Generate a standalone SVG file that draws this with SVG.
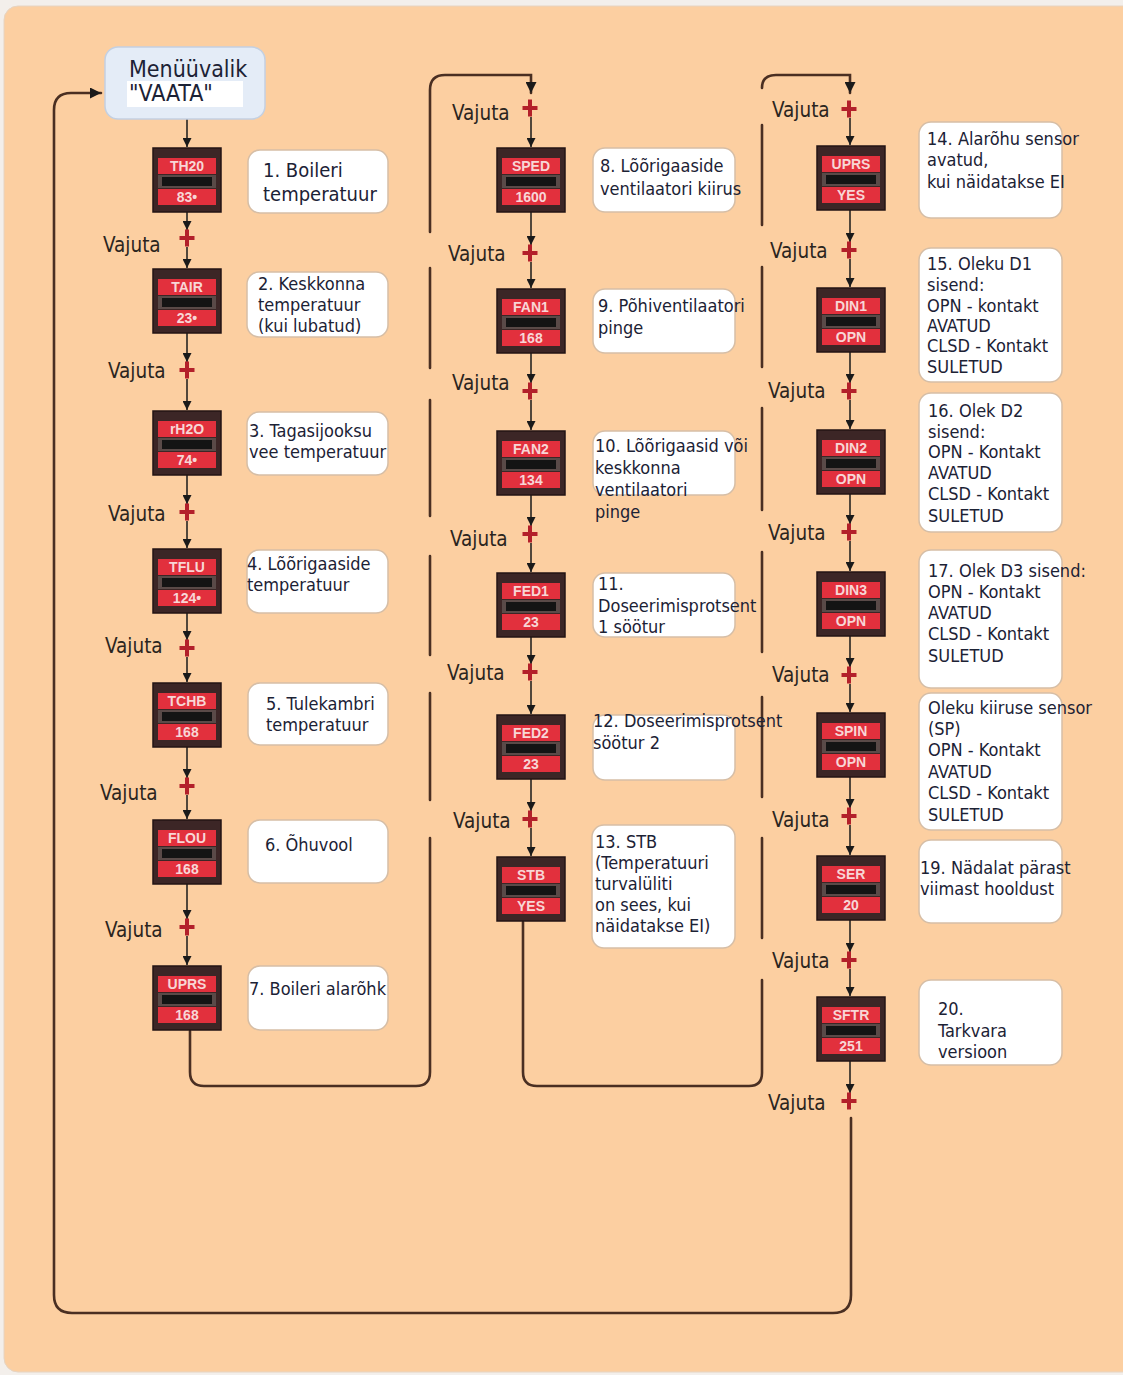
<svg xmlns="http://www.w3.org/2000/svg" xmlns:xlink="http://www.w3.org/1999/xlink" width="1123" height="1375" viewBox="0 0 1123 1375">
<style>
.dt{font-family:"DejaVu Sans Condensed","Liberation Sans",sans-serif;font-size:18px;fill:#1C2235}
.dt1{font-size:20px}
.mt{font-family:"DejaVu Sans Condensed","Liberation Sans",sans-serif;font-size:23px;fill:#1C2235}
.vj{font-family:"DejaVu Sans Condensed","Liberation Sans",sans-serif;font-size:20.5px;fill:#2B2520}
.dl{font-family:"Liberation Sans",Arial,sans-serif;font-weight:bold;font-size:14px;fill:#F8D6D6;text-anchor:middle}
.desc{fill:#FFFFFF;stroke:#D6BEA6;stroke-width:1.5}
.conn{fill:none;stroke:#4A2F22;stroke-width:2.6;stroke-linecap:round}
.thin{fill:none;stroke:#1A1A1A;stroke-width:1.5}
</style>
<defs>
<marker id="ah" viewBox="0 0 10 10" refX="10" refY="5" markerWidth="9" markerHeight="9" markerUnits="userSpaceOnUse" orient="auto">
<path d="M0,0 L10,5 L0,10 z" fill="#1A1A1A"/>
</marker>
<marker id="ahb" viewBox="0 0 10 10" refX="10" refY="5" markerWidth="11" markerHeight="11" markerUnits="userSpaceOnUse" orient="auto">
<path d="M0,0 L10,5 L0,10 z" fill="#1A1A1A"/>
</marker>
<g id="disp">
<rect x="0" y="0" width="68" height="64" fill="#3C2626" stroke="#231414" stroke-width="1.5"/>
<rect x="5" y="10" width="58" height="16" fill="#E2303D"/>
<rect x="5" y="27" width="58" height="13" fill="#5A4A48"/>
<rect x="9" y="29" width="50" height="9" fill="#141414"/>
<rect x="5" y="41" width="58" height="16" fill="#E2303D"/>
</g>
<path id="plus" d="M-7.5,-2 h15 v4 h-15z M-2,-8.5 h4 v17 h-4z" fill="#B3202A"/>
</defs>

<rect x="0" y="0" width="1123" height="1375" fill="#F3EFEB"/>
<rect x="4" y="6" width="1140" height="1366" rx="14" fill="#FCCFA1" stroke="#E6D4C2" stroke-width="1"/>

<g id="connectors">
<path class="conn" d="M851,1118 V1295 Q851,1313 833,1313 H72 Q54,1313 54,1295 V110 Q54,93 71,93 H101" marker-end="url(#ahb)"/>
<path class="conn" d="M190,1031 V1072 Q190,1086 204,1086 H416 Q430,1086 430,1072 V838 M430,800 V693 M430,655 V556 M430,516 V400 M430,368 V268 M430,232 V90 Q430,75 445,75 H531 V93" marker-end="url(#ahb)"/>
<path class="conn" d="M523,922 V1072 Q523,1086 537,1086 H749 Q762,1086 762,1073 V980 M762,938 V838 M762,797 V697 M762,652 V552 M762,510 V408 M762,367 V267 M762,225 V125 M762,88 Q762,75 776,75 H850 V93" marker-end="url(#ahb)"/>
<line class="thin" x1="187" y1="119" x2="187" y2="147" marker-end="url(#ah)"/>

<line class="thin" x1="187" y1="212" x2="187" y2="230" marker-end="url(#ah)"/>
<line class="thin" x1="187" y1="247" x2="187" y2="268" marker-end="url(#ah)"/>
<line class="thin" x1="187" y1="333" x2="187" y2="362" marker-end="url(#ah)"/>
<line class="thin" x1="187" y1="379" x2="187" y2="410" marker-end="url(#ah)"/>
<line class="thin" x1="187" y1="475" x2="187" y2="504" marker-end="url(#ah)"/>
<line class="thin" x1="187" y1="521" x2="187" y2="548" marker-end="url(#ah)"/>
<line class="thin" x1="187" y1="613" x2="187" y2="640" marker-end="url(#ah)"/>
<line class="thin" x1="187" y1="657" x2="187" y2="682" marker-end="url(#ah)"/>
<line class="thin" x1="187" y1="747" x2="187" y2="778" marker-end="url(#ah)"/>
<line class="thin" x1="187" y1="795" x2="187" y2="819" marker-end="url(#ah)"/>
<line class="thin" x1="187" y1="884" x2="187" y2="919" marker-end="url(#ah)"/>
<line class="thin" x1="187" y1="936" x2="187" y2="965" marker-end="url(#ah)"/>

<line class="thin" x1="531" y1="117" x2="531" y2="147" marker-end="url(#ah)"/>
<line class="thin" x1="531" y1="212" x2="531" y2="245" marker-end="url(#ah)"/>
<line class="thin" x1="531" y1="262" x2="531" y2="288" marker-end="url(#ah)"/>
<line class="thin" x1="531" y1="353" x2="531" y2="383" marker-end="url(#ah)"/>
<line class="thin" x1="531" y1="400" x2="531" y2="430" marker-end="url(#ah)"/>
<line class="thin" x1="531" y1="495" x2="531" y2="526" marker-end="url(#ah)"/>
<line class="thin" x1="531" y1="543" x2="531" y2="572" marker-end="url(#ah)"/>
<line class="thin" x1="531" y1="637" x2="531" y2="664" marker-end="url(#ah)"/>
<line class="thin" x1="531" y1="681" x2="531" y2="714" marker-end="url(#ah)"/>
<line class="thin" x1="531" y1="779" x2="531" y2="811" marker-end="url(#ah)"/>
<line class="thin" x1="531" y1="828" x2="531" y2="856" marker-end="url(#ah)"/>

<line class="thin" x1="850" y1="118" x2="850" y2="145" marker-end="url(#ah)"/>
<line class="thin" x1="850" y1="210" x2="850" y2="242" marker-end="url(#ah)"/>
<line class="thin" x1="850" y1="259" x2="850" y2="287" marker-end="url(#ah)"/>
<line class="thin" x1="850" y1="352" x2="850" y2="383" marker-end="url(#ah)"/>
<line class="thin" x1="850" y1="400" x2="850" y2="429" marker-end="url(#ah)"/>
<line class="thin" x1="850" y1="494" x2="850" y2="524" marker-end="url(#ah)"/>
<line class="thin" x1="850" y1="541" x2="850" y2="571" marker-end="url(#ah)"/>
<line class="thin" x1="850" y1="636" x2="850" y2="667" marker-end="url(#ah)"/>
<line class="thin" x1="850" y1="684" x2="850" y2="712" marker-end="url(#ah)"/>
<line class="thin" x1="850" y1="777" x2="850" y2="808" marker-end="url(#ah)"/>
<line class="thin" x1="850" y1="825" x2="850" y2="855" marker-end="url(#ah)"/>
<line class="thin" x1="850" y1="920" x2="850" y2="952" marker-end="url(#ah)"/>
<line class="thin" x1="850" y1="969" x2="850" y2="996" marker-end="url(#ah)"/>
<line class="thin" x1="850" y1="1061" x2="850" y2="1093" marker-end="url(#ah)"/>

<g id="vajuta-labels">
<use xlink:href="#plus" x="187" y="238"/><text class="vj" x="103" y="252">Vajuta</text>
<use xlink:href="#plus" x="187" y="370"/><text class="vj" x="108" y="378">Vajuta</text>
<use xlink:href="#plus" x="187" y="512"/><text class="vj" x="108" y="521">Vajuta</text>
<use xlink:href="#plus" x="187" y="648"/><text class="vj" x="105" y="653">Vajuta</text>
<use xlink:href="#plus" x="187" y="786"/><text class="vj" x="100" y="800">Vajuta</text>
<use xlink:href="#plus" x="187" y="927"/><text class="vj" x="105" y="937">Vajuta</text>

<use xlink:href="#plus" x="530" y="108"/><text class="vj" x="452" y="120">Vajuta</text>
<use xlink:href="#plus" x="530" y="253"/><text class="vj" x="448" y="261">Vajuta</text>
<use xlink:href="#plus" x="530" y="391"/><text class="vj" x="452" y="390">Vajuta</text>
<use xlink:href="#plus" x="530" y="534"/><text class="vj" x="450" y="546">Vajuta</text>
<use xlink:href="#plus" x="530" y="672"/><text class="vj" x="447" y="680">Vajuta</text>
<use xlink:href="#plus" x="530" y="819"/><text class="vj" x="453" y="828">Vajuta</text>

<use xlink:href="#plus" x="849" y="109"/><text class="vj" x="772" y="117">Vajuta</text>
<use xlink:href="#plus" x="849" y="250"/><text class="vj" x="770" y="258">Vajuta</text>
<use xlink:href="#plus" x="849" y="391"/><text class="vj" x="768" y="398">Vajuta</text>
<use xlink:href="#plus" x="849" y="532"/><text class="vj" x="768" y="540">Vajuta</text>
<use xlink:href="#plus" x="849" y="675"/><text class="vj" x="772" y="682">Vajuta</text>
<use xlink:href="#plus" x="849" y="816"/><text class="vj" x="772" y="827">Vajuta</text>
<use xlink:href="#plus" x="849" y="960"/><text class="vj" x="772" y="968">Vajuta</text>
<use xlink:href="#plus" x="849" y="1101"/><text class="vj" x="768" y="1110">Vajuta</text>
</g>
</g>

<g id="menu">
<rect x="105" y="47" width="160" height="72" rx="13" fill="#E4ECF7" stroke="#C3D0E2" stroke-width="1.5"/>
<rect x="127" y="81" width="116" height="26" fill="#FFFFFF"/>
<text class="mt" x="129" y="77">Menüüvalik</text>
<text class="mt" x="129" y="101">"VAATA"</text>
</g>

<g id="n-th20"><use xlink:href="#disp" x="153" y="148"/><text class="dl" x="187" y="171">TH20</text><text class="dl" x="187" y="202">83•</text></g>
<g id="n-tair"><use xlink:href="#disp" x="153" y="269"/><text class="dl" x="187" y="292">TAIR</text><text class="dl" x="187" y="323">23•</text></g>
<g id="n-rh2o"><use xlink:href="#disp" x="153" y="411"/><text class="dl" x="187" y="434">rH2O</text><text class="dl" x="187" y="465">74•</text></g>
<g id="n-tflu"><use xlink:href="#disp" x="153" y="549"/><text class="dl" x="187" y="572">TFLU</text><text class="dl" x="187" y="603">124•</text></g>
<g id="n-tchb"><use xlink:href="#disp" x="153" y="683"/><text class="dl" x="187" y="706">TCHB</text><text class="dl" x="187" y="737">168</text></g>
<g id="n-flou"><use xlink:href="#disp" x="153" y="820"/><text class="dl" x="187" y="843">FLOU</text><text class="dl" x="187" y="874">168</text></g>
<g id="n-uprs1"><use xlink:href="#disp" x="153" y="966"/><text class="dl" x="187" y="989">UPRS</text><text class="dl" x="187" y="1020">168</text></g>

<g id="n-sped"><use xlink:href="#disp" x="497" y="148"/><text class="dl" x="531" y="171">SPED</text><text class="dl" x="531" y="202">1600</text></g>
<g id="n-fan1"><use xlink:href="#disp" x="497" y="289"/><text class="dl" x="531" y="312">FAN1</text><text class="dl" x="531" y="343">168</text></g>
<g id="n-fan2"><use xlink:href="#disp" x="497" y="431"/><text class="dl" x="531" y="454">FAN2</text><text class="dl" x="531" y="485">134</text></g>
<g id="n-fed1"><use xlink:href="#disp" x="497" y="573"/><text class="dl" x="531" y="596">FED1</text><text class="dl" x="531" y="627">23</text></g>
<g id="n-fed2"><use xlink:href="#disp" x="497" y="715"/><text class="dl" x="531" y="738">FED2</text><text class="dl" x="531" y="769">23</text></g>
<g id="n-stb"><use xlink:href="#disp" x="497" y="857"/><text class="dl" x="531" y="880">STB</text><text class="dl" x="531" y="911">YES</text></g>

<g id="n-uprs2"><use xlink:href="#disp" x="817" y="146"/><text class="dl" x="851" y="169">UPRS</text><text class="dl" x="851" y="200">YES</text></g>
<g id="n-din1"><use xlink:href="#disp" x="817" y="288"/><text class="dl" x="851" y="311">DIN1</text><text class="dl" x="851" y="342">OPN</text></g>
<g id="n-din2"><use xlink:href="#disp" x="817" y="430"/><text class="dl" x="851" y="453">DIN2</text><text class="dl" x="851" y="484">OPN</text></g>
<g id="n-din3"><use xlink:href="#disp" x="817" y="572"/><text class="dl" x="851" y="595">DIN3</text><text class="dl" x="851" y="626">OPN</text></g>
<g id="n-spin"><use xlink:href="#disp" x="817" y="713"/><text class="dl" x="851" y="736">SPIN</text><text class="dl" x="851" y="767">OPN</text></g>
<g id="n-ser"><use xlink:href="#disp" x="817" y="856"/><text class="dl" x="851" y="879">SER</text><text class="dl" x="851" y="910">20</text></g>
<g id="n-sftr"><use xlink:href="#disp" x="817" y="997"/><text class="dl" x="851" y="1020">SFTR</text><text class="dl" x="851" y="1051">251</text></g>

<g id="d1"><rect class="desc" x="248" y="150" width="140" height="63" rx="12"/><text class="dt dt1" x="263" y="177">1. Boileri</text><text class="dt dt1" x="263" y="201">temperatuur</text></g>
<g id="d2"><rect class="desc" x="247" y="272" width="141" height="65" rx="12"/><text class="dt" x="258" y="290">2. Keskkonna</text><text class="dt" x="258" y="311">temperatuur</text><text class="dt" x="258" y="332">(kui lubatud)</text></g>
<g id="d3"><rect class="desc" x="247" y="412" width="141" height="63" rx="12"/><text class="dt" x="249" y="437">3. Tagasijooksu</text><text class="dt" x="249" y="458">vee temperatuur</text></g>
<g id="d4"><rect class="desc" x="247" y="550" width="141" height="63" rx="12"/><text class="dt" x="247" y="570">4. Lõõrigaaside</text><text class="dt" x="247" y="591">temperatuur</text></g>
<g id="d5"><rect class="desc" x="248" y="683" width="140" height="62" rx="12"/><text class="dt" x="266" y="710">5. Tulekambri</text><text class="dt" x="266" y="731">temperatuur</text></g>
<g id="d6"><rect class="desc" x="248" y="820" width="140" height="63" rx="12"/><text class="dt" x="265" y="851">6. Õhuvool</text></g>
<g id="d7"><rect class="desc" x="248" y="966" width="140" height="64" rx="12"/><text class="dt" x="249" y="995">7. Boileri alarõhk</text></g>

<g id="d8"><rect class="desc" x="593" y="148" width="142" height="64" rx="12"/><text class="dt" x="600" y="172">8. Lõõrigaaside</text><text class="dt" x="600" y="195">ventilaatori kiirus</text></g>
<g id="d9"><rect class="desc" x="593" y="289" width="142" height="64" rx="12"/><text class="dt" x="598" y="312">9. Põhiventilaatori</text><text class="dt" x="598" y="334">pinge</text></g>
<g id="d10"><rect class="desc" x="593" y="431" width="142" height="64" rx="12"/><text class="dt" x="595" y="452">10. Lõõrigaasid või</text><text class="dt" x="595" y="474">keskkonna</text><text class="dt" x="595" y="496">ventilaatori</text><text class="dt" x="595" y="518">pinge</text></g>
<g id="d11"><rect class="desc" x="593" y="573" width="142" height="64" rx="12"/><text class="dt" x="598" y="590">11.</text><text class="dt" x="598" y="612">Doseerimisprotsent</text><text class="dt" x="598" y="633">1 söötur</text></g>
<g id="d12"><rect class="desc" x="593" y="715" width="142" height="65" rx="12"/><text class="dt" x="593" y="727">12. Doseerimisprotsent</text><text class="dt" x="593" y="749">söötur 2</text></g>
<g id="d13"><rect class="desc" x="592" y="825" width="143" height="123" rx="12"/><text class="dt" x="595" y="848">13. STB</text><text class="dt" x="595" y="869">(Temperatuuri</text><text class="dt" x="595" y="890">turvalüliti</text><text class="dt" x="595" y="911">on sees, kui</text><text class="dt" x="595" y="932">näidatakse EI)</text></g>

<g id="d14"><rect class="desc" x="919" y="122" width="143" height="96" rx="12"/><text class="dt" x="927" y="145">14. Alarõhu sensor</text><text class="dt" x="927" y="166">avatud,</text><text class="dt" x="927" y="188">kui näidatakse EI</text></g>
<g id="d15"><rect class="desc" x="919" y="248" width="143" height="134" rx="12"/><text class="dt" x="927" y="270">15. Oleku D1</text><text class="dt" x="927" y="291">sisend:</text><text class="dt" x="927" y="312">OPN - kontakt</text><text class="dt" x="927" y="332">AVATUD</text><text class="dt" x="927" y="352">CLSD - Kontakt</text><text class="dt" x="927" y="373">SULETUD</text></g>
<g id="d16"><rect class="desc" x="919" y="393" width="143" height="139" rx="12"/><text class="dt" x="928" y="417">16. Olek D2</text><text class="dt" x="928" y="438">sisend:</text><text class="dt" x="928" y="458">OPN - Kontakt</text><text class="dt" x="928" y="479">AVATUD</text><text class="dt" x="928" y="500">CLSD - Kontakt</text><text class="dt" x="928" y="522">SULETUD</text></g>
<g id="d17"><rect class="desc" x="919" y="550" width="143" height="138" rx="12"/><text class="dt" x="928" y="577">17. Olek D3 sisend:</text><text class="dt" x="928" y="598">OPN - Kontakt</text><text class="dt" x="928" y="619">AVATUD</text><text class="dt" x="928" y="640">CLSD - Kontakt</text><text class="dt" x="928" y="662">SULETUD</text></g>
<g id="d18"><rect class="desc" x="919" y="693" width="143" height="137" rx="12"/><text class="dt" x="928" y="714">Oleku kiiruse sensor</text><text class="dt" x="928" y="735">(SP)</text><text class="dt" x="928" y="756">OPN - Kontakt</text><text class="dt" x="928" y="778">AVATUD</text><text class="dt" x="928" y="799">CLSD - Kontakt</text><text class="dt" x="928" y="821">SULETUD</text></g>
<g id="d19"><rect class="desc" x="919" y="840" width="143" height="83" rx="12"/><text class="dt" x="920" y="874">19. Nädalat pärast</text><text class="dt" x="920" y="895">viimast hooldust</text></g>
<g id="d20"><rect class="desc" x="919" y="980" width="143" height="85" rx="12"/><text class="dt" x="938" y="1015">20.</text><text class="dt" x="938" y="1037">Tarkvara</text><text class="dt" x="938" y="1058">versioon</text></g>
</svg>
